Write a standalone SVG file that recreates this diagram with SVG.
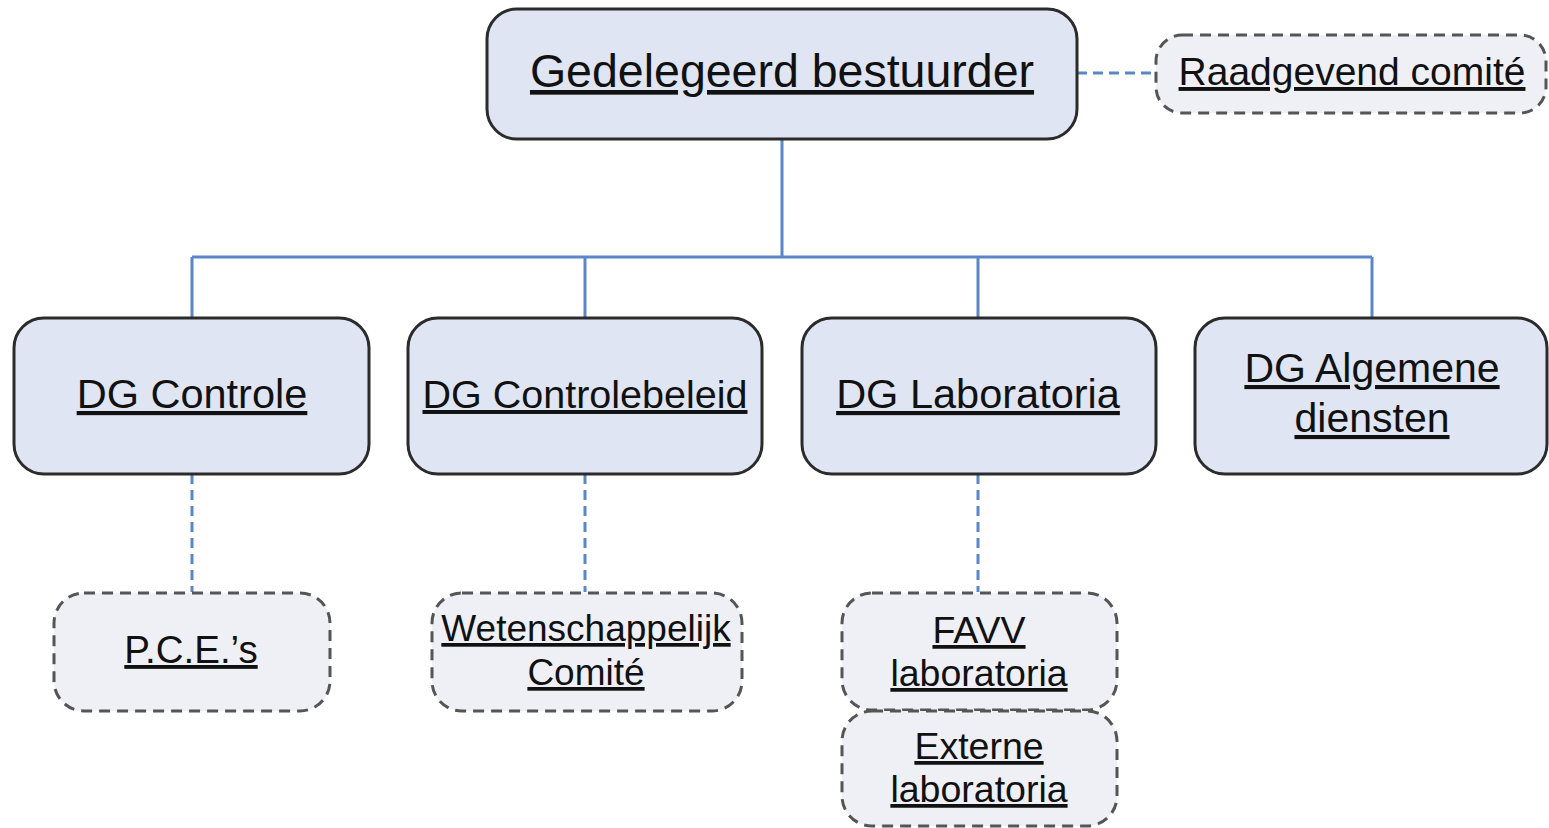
<svg xmlns="http://www.w3.org/2000/svg" width="1549" height="828" viewBox="0 0 1549 828">
<style>
.main{fill:#dfe5f2;stroke:#2b2b2b;stroke-width:3}
.sub{fill:#eef0f6;stroke:#555;stroke-width:3;stroke-dasharray:11 7}
.t{font-family:"Liberation Sans",Arial,sans-serif;fill:#111;text-anchor:middle;text-decoration:underline}
.c{fill:none;stroke:#5b86c8;stroke-width:3}
.cd{fill:none;stroke:#5b86c8;stroke-width:3;stroke-dasharray:10 6}
</style>
<rect width="1549" height="828" fill="#fff"/>
<g id="connectors">
<path class="c" d="M782 139V257M192 257H1372M192 257V318M585 257V318M978 257V318M1372 257V318"/>
<path class="cd" d="M1077 73H1155M192 474V592M585 474V592M978 474V592"/>
</g>
<g id="n-top"><rect class="main" x="487" y="9" width="590" height="130" rx="30"/><text class="t" x="782" y="87" font-size="46.5">Gedelegeerd bestuurder</text></g>
<g id="n-raad"><rect class="sub" x="1156" y="35" width="390" height="78" rx="26"/><text class="t" x="1352" y="85" font-size="39">Raadgevend comité</text></g>
<g id="n-dgc"><rect class="main" x="14" y="318" width="355" height="156" rx="30"/><text class="t" x="192" y="408" font-size="41.5">DG Controle</text></g>
<g id="n-dgcb"><rect class="main" x="408" y="318" width="354" height="156" rx="30"/><text class="t" x="585" y="408" font-size="39.5">DG Controlebeleid</text></g>
<g id="n-dgl"><rect class="main" x="802" y="318" width="354" height="156" rx="30"/><text class="t" x="978" y="408" font-size="41.5">DG Laboratoria</text></g>
<g id="n-dga"><rect class="main" x="1195" y="318" width="352" height="156" rx="30"/><text class="t" x="1372" y="382" font-size="41">DG Algemene</text><text class="t" x="1372" y="432" font-size="41">diensten</text></g>
<g id="n-pce"><rect class="sub" x="54" y="593" width="276" height="118" rx="30"/><text class="t" x="191" y="663" font-size="38.5">P.C.E.’s</text></g>
<g id="n-wet"><rect class="sub" x="432" y="593" width="310" height="118" rx="30"/><text class="t" x="586" y="641" font-size="37">Wetenschappelijk</text><text class="t" x="586" y="685" font-size="37">Comité</text></g>
<g id="n-favv"><rect class="sub" x="842" y="593" width="275" height="117" rx="30"/><text class="t" x="979" y="643" font-size="37.5">FAVV</text><text class="t" x="979" y="686" font-size="37.5">laboratoria</text></g>
<g id="n-ext"><rect class="sub" x="842" y="711" width="275" height="115" rx="30"/><text class="t" x="979" y="759" font-size="37.5">Externe</text><text class="t" x="979" y="802" font-size="37.5">laboratoria</text></g>
</svg>
